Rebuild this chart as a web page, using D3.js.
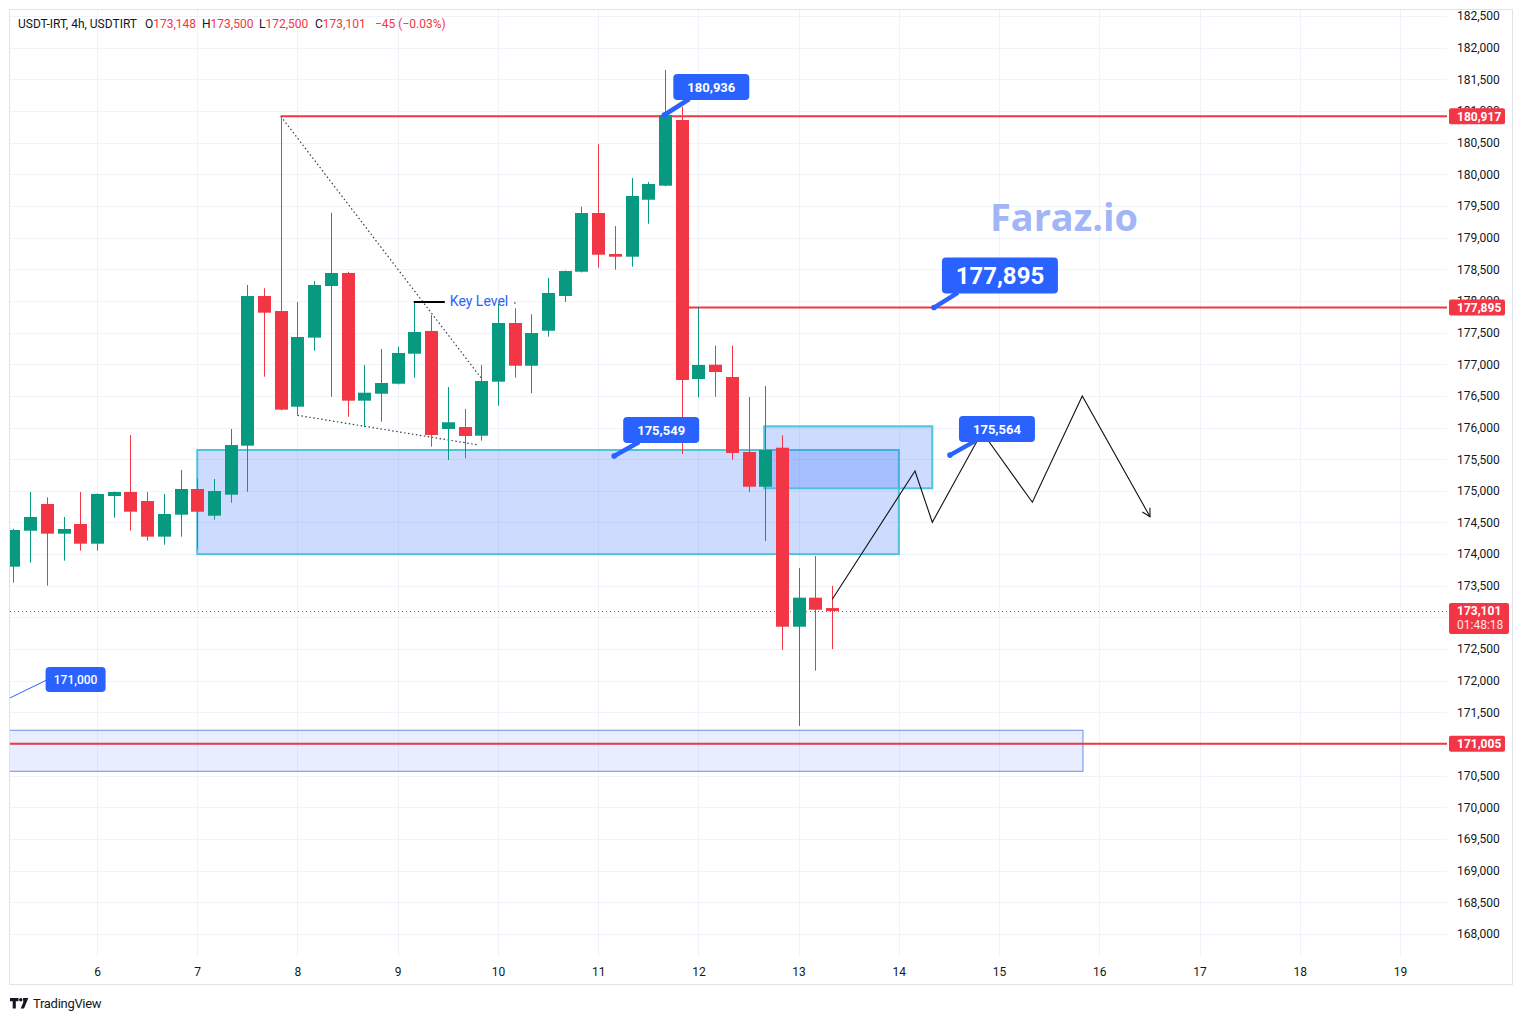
<!DOCTYPE html>
<html><head><meta charset="utf-8">
<script src="https://cdn.jsdelivr.net/npm/d3@7/dist/d3.min.js"></script>
<style>html,body{margin:0;padding:0;background:#fff;} svg{display:block;font-family:Roboto,"Liberation Sans",sans-serif;}</style>
</head><body><svg id="c" width="1523" height="1021"></svg>
<script>
// ---------------- DATA ----------------
const symbolTitle = "USDT-IRT, 4h, USDTIRT";
const firstCandleDay = 5 + 4/24;   // 4h bars
const barsPerDay = 6;
const candleOpen  = [173802,174370,174792,174323,174476,174165,174918,174982,174839,174276,174623,175029,174607,174939,175713,178077,177840,176329,177420,178235,178441,176424,176534,176692,177166,177525,175977,176008,175871,176724,177651,176976,177529,178077,178461,179388,178741,178698,179598,179820,180857,176766,176992,176798,175613,175065,175681,172854,173312,173148];
const candleHigh  = [174400,174982,174898,174587,174982,174960,174990,175882,174982,174950,175329,175192,175187,175977,178251,178199,180917,177983,178314,179393,178460,176988,177240,177277,177987,177777,176640,176293,176988,177951,177883,177788,178362,178480,179488,180474,179183,179941,179878,181647,181067,177895,177292,177292,176482,176656,175877,173781,173971,173500];
const candleLow   = [173549,173865,173502,173897,174054,174054,174576,174370,174212,174149,174276,174086,174544,174813,174986,176803,176270,176193,177213,176487,176171,176003,176092,176680,176787,175697,175487,175514,175792,176345,176787,176540,177435,177983,178450,178524,178493,178540,179219,179810,175582,176477,176487,175492,174982,174208,172486,171286,172159,172500];
const candleClose = [174381,174587,174323,174397,174165,174950,174982,174670,174276,174634,175029,174670,174997,175724,178077,177814,176282,177430,178251,178441,176424,176550,176703,177177,177509,175882,176083,175866,176735,177651,176976,177493,178125,178472,179388,178730,178698,179657,179846,180936,176751,176988,176877,175598,175065,175645,172854,173312,173122,173101];
const lastChange = "\u221245 (\u22120.03%)";
const countdown = "01:48:18";

const priceTicks = [168000,168500,169000,169500,170000,170500,171000,171500,172000,172500,173000,173500,174000,174500,175000,175500,176000,176500,177000,177500,178000,178500,179000,179500,180000,180500,181000,181500,182000,182500];
const dayTicks = [6,7,8,9,10,11,12,13,14,15,16,17,18,19];

// horizontal levels
const levelValues = [180917, 177895, 171005];
const levelStartDays = [7.8333, 11.906, 4.0];

// zones: [day0, day1], [valueTop, valueBottom]
const zoneDays   = [[7, 14], [12.657, 14.334], [4.0, 15.837]];
const zoneValues = [[175645, 174000], [176019, 175040], [171218, 170570]];

// dotted trend lines
const trendUpper = [[7.8333, 180917], [9.83, 176787]];
const trendLower = [[8.0, 176193], [9.81, 175724]];

// key level
const keyLevelDays = [9.16, 9.47];
const keyLevelValue = 177983;
const keyLevelText = "Key Level";

// projected path
const pathDays   = [13.336, 14.161, 14.334, 14.830, 15.332, 15.830, 16.506];
const pathValues = [173287, 175313, 174503, 175929, 174819, 176498, 174591];

// callouts
const calloutDays   = [11.66, 14.35, 11.16, 14.51, 4.19];
const calloutValues = [180936, 177895, 175549, 175564, 171000];
const calloutTexts  = ["180,936", "177,895", "175,549", "175,564", "171,000"];

const watermark = "Faraz.io";

// ---------------- STYLE / LAYOUT ----------------
const pane = {l: 10, r: 1447, t: 10, b: 957};
const UP = "#089981", DOWN = "#f23645", RED = "#f23645", BLUE = "#2962ff";
const calloutStyle = [
  {dx: 9,  dy: -41, w: 76,  h: 26, fs: 13},
  {dx: 8,  dy: -50, w: 116, h: 36, fs: 24},
  {dx: 9,  dy: -39, w: 76,  h: 26, fs: 13},
  {dx: 9,  dy: -39, w: 76,  h: 26, fs: 13},
  {dx: 130,dy: -77, w: 60,  h: 25, fs: 12, thin: true}
];

const yS = d3.scaleLinear().domain([168000, 182500]).range([934, 16]);
const xS = d3.scaleLinear().domain([6, 19]).range([97, 1400]);
const candleDay = i => firstCandleDay + i / barsPerDay;
const step = xS(1/barsPerDay) - xS(0);
const bodyW = Math.round(step * 0.78);
const fmt = d3.format(",");

const svg = d3.select("#c");
const defs = svg.append("defs");
defs.append("clipPath").attr("id", "pane").append("rect")
  .attr("x", pane.l).attr("y", pane.t).attr("width", pane.r - pane.l).attr("height", pane.b - pane.t);

svg.append("rect").attr("x", 9.5).attr("y", 9.5).attr("width", 1503).attr("height", 975)
  .attr("fill", "none").attr("stroke", "#e0e3eb");

const g = svg.append("g").attr("clip-path", "url(#pane)");

// grid
g.selectAll(".hg").data(priceTicks).join("line").attr("class", "hg")
  .attr("x1", pane.l).attr("x2", pane.r)
  .attr("y1", d => Math.round(yS(d)) + 0.5).attr("y2", d => Math.round(yS(d)) + 0.5)
  .attr("stroke", "#f0f3fa");
g.selectAll(".vg").data(dayTicks).join("line").attr("class", "vg")
  .attr("y1", pane.t).attr("y2", pane.b)
  .attr("x1", d => Math.round(xS(d)) + 0.5).attr("x2", d => Math.round(xS(d)) + 0.5)
  .attr("stroke", "#f0f3fa");

// zones
const zoneFill = ["rgba(41,98,255,0.23)", "rgba(41,98,255,0.23)", "rgba(41,98,255,0.11)"];
const zoneStroke = ["#4fc3dc", "#4fc3dc", "#6f8ee8"];
const zoneSW = [2, 2, 1];
[2, 0, 1].forEach(k => {
  const x0 = xS(zoneDays[k][0]), x1 = xS(zoneDays[k][1]);
  const y0 = yS(zoneValues[k][0]), y1 = yS(zoneValues[k][1]);
  g.append("rect").attr("x", x0).attr("y", y0).attr("width", x1 - x0).attr("height", y1 - y0)
    .attr("fill", zoneFill[k]).attr("stroke", zoneStroke[k]).attr("stroke-width", zoneSW[k]);
});

// level lines
levelValues.forEach((v, k) => {
  g.append("line").attr("x1", xS(levelStartDays[k])).attr("x2", pane.r)
    .attr("y1", yS(v)).attr("y2", yS(v)).attr("stroke", RED).attr("stroke-width", 2);
});

// dotted trend lines
[trendUpper, trendLower].forEach(tl => {
  g.append("line").attr("x1", xS(tl[0][0])).attr("y1", yS(tl[0][1]))
    .attr("x2", xS(tl[1][0])).attr("y2", yS(tl[1][1]))
    .attr("stroke", "#3a3e48").attr("stroke-width", 1.2).attr("stroke-dasharray", "1.5,2.5");
});

// candles
const idx = d3.range(candleOpen.length);
const cg = g.append("g");
cg.selectAll(".wick").data(idx).join("line")
  .attr("x1", i => Math.round(xS(candleDay(i))) + 0.5).attr("x2", i => Math.round(xS(candleDay(i))) + 0.5)
  .attr("y1", i => yS(candleHigh[i])).attr("y2", i => yS(candleLow[i]))
  .attr("stroke", i => candleClose[i] >= candleOpen[i] ? UP : DOWN).attr("stroke-width", 1);
cg.selectAll(".body").data(idx).join("rect")
  .attr("x", i => Math.round(xS(candleDay(i))) + 0.5 - bodyW / 2)
  .attr("width", bodyW)
  .attr("y", i => yS(Math.max(candleOpen[i], candleClose[i])))
  .attr("height", i => Math.max(2, Math.abs(yS(candleOpen[i]) - yS(candleClose[i]))))
  .attr("fill", i => candleClose[i] >= candleOpen[i] ? UP : DOWN);

// last price line
const lastClose = candleClose[candleClose.length - 1];
g.append("line").attr("x1", pane.l).attr("x2", pane.r)
  .attr("y1", Math.round(yS(lastClose)) + 0.5).attr("y2", Math.round(yS(lastClose)) + 0.5)
  .attr("stroke", RED).attr("stroke-width", 1).attr("stroke-dasharray", "1,3");

// projected path
const pts = pathDays.map((d, k) => [xS(d), yS(pathValues[k])]);
g.append("path").attr("d", d3.line()(pts)).attr("fill", "none").attr("stroke", "#111").attr("stroke-width", 1.1);
{
  const a = pts[pts.length - 2], b = pts[pts.length - 1];
  const ang = Math.atan2(b[1] - a[1], b[0] - a[0]);
  const L = 9;
  const p1 = [b[0] - L * Math.cos(ang - 0.5), b[1] - L * Math.sin(ang - 0.5)];
  const p2 = [b[0] - L * Math.cos(ang + 0.5), b[1] - L * Math.sin(ang + 0.5)];
  g.append("path").attr("d", d3.line()([p1, b, p2])).attr("fill", "none").attr("stroke", "#111").attr("stroke-width", 1.1);
}

// key level
g.append("line").attr("x1", xS(keyLevelDays[0])).attr("x2", xS(keyLevelDays[1]))
  .attr("y1", yS(keyLevelValue)).attr("y2", yS(keyLevelValue)).attr("stroke", "#000").attr("stroke-width", 2);
g.append("text").attr("x", xS(keyLevelDays[1]) + 5).attr("y", yS(keyLevelValue) + 4.5)
  .attr("fill", BLUE).attr("font-size", 14).text(keyLevelText);
g.append("circle").attr("cx", xS(keyLevelDays[1]) + 70).attr("cy", yS(keyLevelValue) + 1).attr("r", 1).attr("fill", "#888");

// watermark text
g.append("text").attr("x", 990).attr("y", 231).attr("font-size", 37).attr("font-weight", "bold")
  .attr("font-family", "'Open Sans', Roboto, sans-serif")
  .attr("textLength", 148).attr("lengthAdjust", "spacingAndGlyphs")
  .attr("fill", "#a2b6f7").text(watermark);

// callouts
calloutTexts.forEach((t, k) => {
  const s = calloutStyle[k];
  const ax = xS(calloutDays[k]), ay = yS(calloutValues[k]);
  const bx = ax + s.dx, by = ay + s.dy;
  if (s.thin) {
    g.append("line").attr("x1", ax).attr("y1", ay).attr("x2", bx + 2).attr("y2", by + s.h / 2)
      .attr("stroke", BLUE).attr("stroke-width", 1);
  } else {
    g.append("line").attr("x1", ax).attr("y1", ay).attr("x2", bx + 16).attr("y2", by + s.h - 1)
      .attr("stroke", BLUE).attr("stroke-width", 4.5);
    g.append("circle").attr("cx", ax).attr("cy", ay).attr("r", 2.8).attr("fill", BLUE);
  }
  g.append("rect").attr("x", bx).attr("y", by).attr("width", s.w).attr("height", s.h).attr("rx", 4)
    .attr("fill", BLUE);
  g.append("text").attr("x", bx + s.w / 2).attr("y", by + s.h / 2).attr("dy", "0.36em")
    .attr("text-anchor", "middle").attr("fill", "#fff").attr("font-size", s.fs)
    .attr("font-weight", s.thin ? 500 : "bold").text(t);
});

// price axis (labels fully hidden behind price tags are not drawn, as in the reference)
const lastClose2 = lastClose;
const hiddenTicks = priceTicks.filter(t => levelValues.some(v => Math.abs(yS(t) - yS(v)) < 3)
  || (yS(t) > yS(lastClose2) - 4 && yS(t) < yS(lastClose2) + 22));
const yAxis = d3.axisRight(yS).tickValues(priceTicks.filter(t => !hiddenTicks.includes(t)))
  .tickFormat(fmt).tickSize(0).tickPadding(8);
const ya = svg.append("g").attr("transform", `translate(1449,0)`).call(yAxis);
ya.select(".domain").remove();
ya.selectAll("text").attr("fill", "#131722").attr("font-size", 12).attr("font-family", "Roboto, sans-serif");

// time axis
const xAxis = d3.axisBottom(xS).tickValues(dayTicks).tickFormat(d => String(d)).tickSize(0).tickPadding(10);
const xa = svg.append("g").attr("transform", `translate(0,${pane.b})`).call(xAxis);
xa.select(".domain").remove();
xa.selectAll("text").attr("fill", "#131722").attr("font-size", 12).attr("font-family", "Roboto, sans-serif");

// axis price tags
levelValues.forEach(v => {
  const y = yS(v);
  svg.append("rect").attr("x", 1449).attr("y", y - 8).attr("width", 56).attr("height", 16).attr("rx", 2).attr("fill", RED);
  svg.append("text").attr("x", 1457).attr("y", y).attr("dy", "0.36em").attr("fill", "#fff")
    .attr("font-size", 12).attr("font-weight", "bold").text(fmt(v));
});
{
  const y = yS(lastClose);
  svg.append("rect").attr("x", 1449).attr("y", y - 8).attr("width", 60).attr("height", 31).attr("rx", 2).attr("fill", RED);
  svg.append("text").attr("x", 1457).attr("y", y).attr("dy", "0.36em").attr("fill", "#fff")
    .attr("font-size", 12).attr("font-weight", "bold").text(fmt(lastClose));
  svg.append("text").attr("x", 1457).attr("y", y + 14).attr("dy", "0.36em").attr("fill", "#fde4e6")
    .attr("font-size", 12).text(countdown);
}

// header
const last = candleOpen.length - 1;
const hdr = svg.append("text").attr("y", 28).attr("font-size", 12).attr("fill", "#131722");
hdr.append("tspan").attr("x", 18).text(symbolTitle);
const hdrParts = [["O", candleOpen[last], 145], ["H", candleHigh[last], 202], ["L", candleLow[last], 259], ["C", candleClose[last], 315]];
hdrParts.forEach(p => {
  hdr.append("tspan").attr("x", p[2]).attr("fill", "#131722").text(p[0]);
  hdr.append("tspan").attr("fill", RED).text(fmt(p[1]));
});
hdr.append("tspan").attr("x", 375).attr("fill", RED).text(lastChange);

// TradingView logo
const lg = svg.append("g").attr("fill", "#131722");
lg.append("path").attr("d", "M10,998h8.5v3.2h-2.7v7.3h-3.1v-7.3h-2.7z");
lg.append("circle").attr("cx", 20.8).attr("cy", 999.7).attr("r", 1.7);
lg.append("path").attr("d", "M23,998h5.3l-4.3,10.5h-3.3l2.6,-6.2z");
svg.append("text").attr("x", 33).attr("y", 1007.5).attr("font-size", 13).attr("fill", "#131722")
  .attr("letter-spacing", "-0.3").text("TradingView");
</script></body></html>
